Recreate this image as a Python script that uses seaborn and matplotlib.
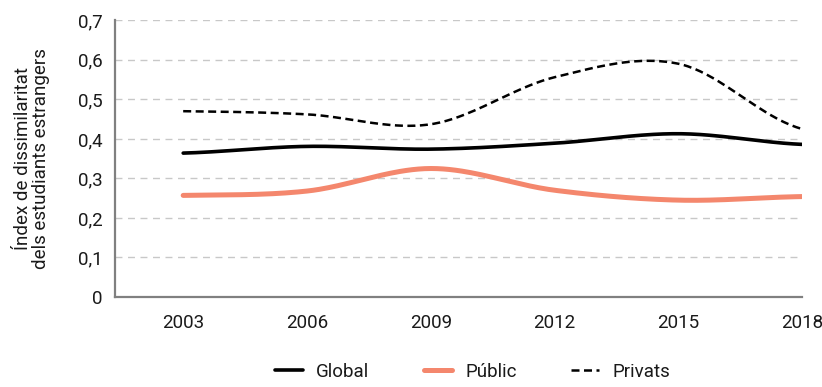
import numpy as np
import pandas as pd
import matplotlib
matplotlib.use("Agg")
import matplotlib.pyplot as plt
import seaborn as sns

# ============================================================
# DADES
# ============================================================

anys = ["2003", "2006", "2009", "2012", "2015", "2018"]
global_vals = [0.364, 0.381, 0.374, 0.389, 0.413, 0.386]
public_vals = [0.257, 0.268, 0.325, 0.270, 0.245, 0.254]
privats_vals = [0.470, 0.462, 0.437, 0.556, 0.590, 0.425]

series = {"Global": global_vals, "Públic": public_vals, "Privats": privats_vals}


# corba suau tipus Excel (Catmull-Rom) entre els punts
def suavitzar(y, n=40):
    x = np.arange(len(y), dtype=float)
    y = np.asarray(y, dtype=float)
    px = np.concatenate([[2 * x[0] - x[1]], x, [2 * x[-1] - x[-2]]])
    py = np.concatenate([[y[0]], y, [y[-1]]])
    xs, ys = [], []
    for i in range(1, len(px) - 2):
        t = np.linspace(0, 1, n, endpoint=False)
        for arr, out in ((px, xs), (py, ys)):
            p0, p1, p2, p3 = arr[i - 1], arr[i], arr[i + 1], arr[i + 2]
            out.extend(0.5 * ((2 * p1) + (-p0 + p2) * t
                              + (2 * p0 - 5 * p1 + 4 * p2 - p3) * t ** 2
                              + (-p0 + 3 * p1 - 3 * p2 + p3) * t ** 3))
    xs.append(x[-1])
    ys.append(y[-1])
    return np.array(xs), np.array(ys)


rows = []
for nom, vals in series.items():
    xs, ys = suavitzar(vals)
    rows.append(pd.DataFrame({"x": xs, "y": ys, "serie": nom}))
df = pd.concat(rows, ignore_index=True)

# ============================================================
# GRÀFIC
# ============================================================

sns.set_theme(style="white")
plt.rcParams["font.family"] = ["Roboto", "DejaVu Sans"]

fig = plt.figure(figsize=(8.22, 3.87), dpi=100)
ax = fig.add_axes([0.140, 0.2326, 0.836, 0.715])

estils = {
    "Global": dict(color="black", lw=2.6, ls="-"),
    "Públic": dict(color="#F4876D", lw=3.6, ls="-"),
    "Privats": dict(color="black", lw=1.8, ls=(0, (3.2, 1.8))),
}

for nom in series:
    d = df[df["serie"] == nom]
    e = estils[nom]
    sns.lineplot(data=d, x="x", y="y", ax=ax, color=e["color"],
                 linewidth=e["lw"], linestyle=e["ls"], label=nom,
                 sort=False, estimator=None)

ax.set_xlim(-0.55, 5)
ax.set_ylim(0, 0.7)
ax.set_xticks(range(len(anys)))
ax.set_xticklabels(anys)
ax.set_xticks([-0.55], minor=True)
yt = np.round(np.arange(0, 0.71, 0.1), 1)
ax.set_yticks(yt)
ax.set_yticklabels(["0" if v == 0 else f"{v:.1f}".replace(".", ",") for v in yt])

ax.grid(axis="y", color="#c8c8c8", linestyle=(0, (5, 4)), linewidth=1)
ax.set_axisbelow(True)

for s in ["top", "right"]:
    ax.spines[s].set_visible(False)
for s in ["left", "bottom"]:
    ax.spines[s].set_color("#808080")
    ax.spines[s].set_linewidth(1.6)

ax.tick_params(axis="both", which="both", direction="out", length=5,
               width=1.2, color="#808080", labelsize=13.5, labelcolor="#1a1a1a")
ax.tick_params(axis="x", pad=7)
ax.tick_params(axis="y", pad=4)

ax.set_xlabel("")
ax.set_ylabel("Índex de dissimilaritat\ndels estudiants estrangers",
              fontsize=13.5, color="#1a1a1a", linespacing=1.0, labelpad=20)

leg = ax.legend(loc="upper center", bbox_to_anchor=(0.52, -0.19), ncol=3,
                frameon=False, fontsize=13.5, handlelength=1.5,
                columnspacing=2.9, handletextpad=0.7, borderpad=0.2)
for t in leg.get_texts():
    t.set_color("#1a1a1a")

fig.savefig("out.png", dpi=100)
